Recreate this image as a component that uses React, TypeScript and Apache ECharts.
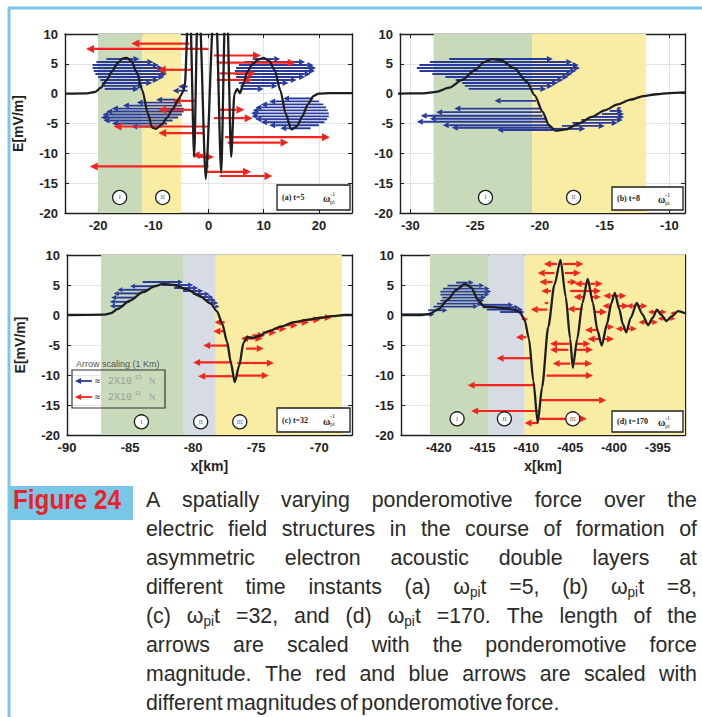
import React, { useEffect, useRef } from 'react';
import * as echarts from 'echarts';

const FONT = '"Liberation Sans", Arial, Helvetica, sans-serif';
const SERIF = '"Liberation Serif", "DejaVu Serif", serif';

// ---------- axes ----------
const Y_TICKS_MIN = -20;
const Y_TICKS_MAX = 10;
const Y_STEP = 5;
const xRangeA = [-26, 26];
const xRangeB = [-30.8, -8.8];
const xRangeC = [-90, -67.4];
const xRangeD = [-424.3, -391.9];
const xTicksA = [-20, -10, 0, 10, 20];
const xTicksB = [-30, -25, -20, -15, -10];
const xTicksC = [-90, -85, -80, -75, -70];
const xTicksD = [-420, -415, -410, -405, -400, -395];

// ---------- shaded regions [x0, x1, kind] kind: 0 green, 1 yellow, 2 grey-blue ----------
const regionsA = [[-20, -12, 0], [-12, -5, 1]];
const regionsB = [[-28.2, -20.6, 0], [-20.6, -11.8, 1]];
const regionsC = [[-87.3, -80.8, 0], [-80.8, -78.2, 2], [-78.2, -68.2, 1]];
const regionsD = [[-421, -414.3, 0], [-414.3, -410.2, 2], [-410.2, -391.9, 1]];

// ---------- electric field curves [x, E] ----------
const curveA = [
  [-26, 0], [-22, 0.05], [-20.5, 0.3], [-19.5, 1], [-18.5, 2.2], [-17.5, 3.7], [-16.5, 5.1], [-15.5, 5.9],
  [-14.8, 6], [-14, 5.5], [-13, 3.6], [-12, 0.6], [-11, -3.3], [-10.2, -5.7], [-9.5, -5.9], [-8.5, -5.2],
  [-7.5, -4], [-6.5, -2.6], [-5.5, -1.1], [-5, -0.3], [-4.6, 0.4], [-4.3, 1.2],
  [-3.7, 13], [-3.3, 13], [-2.6, -10.6], [-2.0, 13], [-1.6, 13], [-0.5, -14.3], [0.9, 13], [1.4, 13],
  [2.3, -13.3], [3.0, 13], [3.4, 13], [4.1, -10.6], [4.7, 0], [5.2, 0.8], [5.7, 0.1], [6.3, 1.6],
  [7, 3.6], [8, 5], [9, 5.7], [10, 6], [11, 5.5], [12, 3.9], [13, 0.6], [14, -3.4], [15, -6],
  [16, -5.5], [17, -3.8], [18, -1.8], [19, -0.4], [20, 0], [22, 0.1], [26, 0.1],
];
const curveB = [
  [-31, 0], [-29, 0.05], [-28, 0.3], [-27, 1], [-26, 2.3], [-25, 4], [-24.3, 5.3], [-23.7, 5.8],
  [-23, 5.6], [-22, 4.3], [-21, 2], [-20.4, -0.3], [-19.8, -3], [-19.3, -5.3], [-18.8, -6.2],
  [-18, -6], [-17, -5], [-16, -3.9], [-15, -2.8], [-14, -1.8], [-13, -1], [-12, -0.4], [-11, -0.1],
  [-10, 0.1], [-8.8, 0.2],
];
const curveC = [
  [-90, 0], [-87, 0.05], [-86.5, 0.3], [-86, 1], [-85, 2.4], [-84, 3.8], [-83, 4.8], [-82.4, 5.2],
  [-81.5, 5], [-80.5, 4.3], [-79.5, 3.2], [-78.6, 1.9], [-78.1, 0.6], [-77.7, -1.4], [-77.3, -4.5],
  [-77, -8], [-76.7, -11.2], [-76.35, -8.5], [-76, -4.6], [-75.7, -3.7], [-75.2, -3.8], [-74.8, -3.5],
  [-74, -2.7], [-73, -1.9], [-72, -1.2], [-71, -0.8], [-70, -0.5], [-69, -0.2], [-68, 0], [-67.4, 0],
];
const curveD = [
  [-424.3, 0], [-422, 0], [-421, 0.2], [-420, 1], [-419, 2.5], [-418, 4.2], [-417, 5.2], [-416.3, 4.6],
  [-415.5, 2.5], [-414.8, 1.4], [-413, 1.2], [-411.5, 0.9], [-410.7, 0.4], [-410.2, -0.8], [-409.7, -4],
  [-409.2, -11], [-408.7, -18], [-408.2, -12], [-407.5, -2], [-406.8, 5], [-406.1, 9.2], [-405.5, 3],
  [-405, -4], [-404.7, -8.8], [-404.2, -4], [-403.6, 2], [-403, 6], [-402.4, 2], [-401.9, -2.5],
  [-401.4, -5.1], [-400.8, -1.5], [-400.3, 2], [-399.9, 3.7], [-399.4, 1], [-399, -1.5], [-398.6, -2.9],
  [-398.1, -0.5], [-397.4, 2], [-396.8, 0.2], [-396.1, -1.7], [-395.6, -0.5], [-395.1, 0.9], [-394.6, 0],
  [-394, -1], [-393.4, -0.2], [-392.7, 0.65], [-391.9, 0.3],
];

// ---------- ponderomotive force arrows [xTail, y, xHead] ----------
const blueA = [
  [-18.5, 5.8, -12.5], [-20.3, 5.3, -10.0], [-21.0, 4.8, -9.0], [-21.0, 4.3, -8.2], [-20.8, 3.8, -7.6],
  [-20.5, 3.3, -7.5], [-20.0, 2.8, -8.0], [-19.6, 2.3, -9.0], [-19.3, 1.8, -10.2], [-19.0, 1.3, -11.8],
  [-18.8, 0.8, -12.6],
  [-6.0, -1.0, -9.5], [-5.2, -1.5, -13.0], [-4.8, -2.0, -15.5], [-4.5, -2.5, -17.5], [-4.5, -3.0, -18.5],
  [-4.8, -3.5, -19.2], [-5.5, -4.0, -19.5], [-6.5, -4.5, -19.0], [-7.5, -5.0, -17.5], [-8.5, -5.5, -14.0],
  [-3.8, 0.5, -6.5], [-3.8, 1.2, -5.5],
  [8.0, 5.8, 13.0], [6.5, 5.3, 17.5], [5.5, 4.8, 19.0], [5.0, 4.3, 19.5], [4.8, 3.8, 19.3],
  [4.8, 3.3, 18.5], [5.0, 2.8, 17.5], [5.2, 2.3, 16.0], [5.5, 1.8, 14.5], [5.8, 1.3, 12.5], [6.0, 0.8, 10.0],
  [19.0, -0.8, 13.5], [20.0, -1.3, 11.0], [20.8, -1.8, 9.5], [21.3, -2.3, 8.5], [21.6, -2.8, 8.0],
  [21.8, -3.3, 7.7], [21.8, -3.8, 7.8], [21.5, -4.3, 8.5], [21.0, -4.8, 9.5], [20.0, -5.3, 11.0],
  [18.5, -5.8, 13.0],
];
const redA = [
  [-3.5, 8.4, -14.0], [0.0, 7.5, -22.2], [-3.0, 4.0, -9.2], [-2.5, -1.2, -6.5], [-2.8, -2.7, -9.1],
  [0.0, -5.5, -17.2], [-1.0, -6.6, -9.1], [0.0, -12.2, -21.5], [-1.0, -10.3, -3.0],
  [1.0, 6.4, 9.5], [1.5, 5.2, 15.8], [2.0, 3.4, 8.6], [1.5, 2.3, 8.0], [2.0, -2.7, 6.5], [1.0, -4.1, 8.0],
  [3.0, -7.3, 22.0], [3.5, -8.2, 14.5], [-0.5, -13.1, 7.7], [2.0, -13.8, 11.6], [-2.0, -10.6, 1.0],
];
const blueB = [
  [-27.0, 5.8, -19.0], [-28.5, 5.3, -17.5], [-29.3, 4.8, -17.0], [-29.5, 4.3, -16.9], [-29.3, 3.8, -17.2],
  [-28.3, 3.3, -17.5], [-27.3, 2.8, -17.8], [-26.5, 2.3, -18.2], [-26.0, 1.8, -18.6], [-25.8, 1.3, -19.0],
  [-25.5, 0.8, -19.5],
  [-20.3, -1.2, -23.5], [-20.0, -2.5, -26.6], [-19.9, -3.1, -28.0], [-19.8, -3.7, -29.2], [-19.6, -4.2, -28.5],
  [-19.4, -4.7, -29.5], [-19.2, -5.3, -27.5], [-19.0, -5.7, -26.8], [-19.0, -6.1, -23.3],
  [-19.0, -5.9, -16.5], [-18.3, -5.4, -15.0], [-17.5, -4.9, -14.0], [-16.8, -4.4, -13.6], [-16.0, -3.9, -13.5],
  [-15.2, -3.4, -13.5], [-14.6, -2.9, -13.6], [-14.0, -2.4, -13.7],
];
const blueC = [
  [-85.5, 1.5, -86.6], [-85.0, 2.2, -86.6], [-84.6, 2.9, -86.5], [-84.1, 3.6, -86.3], [-83.6, 4.2, -86.0],
  [-83.0, 4.8, -85.0],
  [-84.0, 5.5, -80.8], [-82.5, 5.0, -80.0], [-81.5, 4.5, -79.6], [-80.8, 4.0, -79.2], [-80.0, 3.5, -78.7],
  [-79.5, 3.0, -78.4], [-79.0, 2.5, -78.2], [-78.6, 2.0, -78.0], [-78.3, 1.4, -77.9],
];
const redC = [
  [-77.5, -1.2, -78.3], [-77.6, -2.7, -78.4], [-77.3, -5.1, -79.2], [-76.9, -7.9, -80.0], [-76.8, -10.2, -79.6],
  [-76.0, -3.9, -74.5], [-75.8, -5.6, -74.4], [-76.5, -8.0, -73.6], [-76.5, -10.1, -74.0], [-75.3, -3.9, -76.2],
  [-75.3, -3.4, -74.3], [-74.5, -2.9, -73.4], [-73.6, -2.3, -72.6], [-72.7, -1.7, -71.7], [-71.8, -1.2, -70.8],
  [-70.9, -0.8, -69.9], [-70.0, -0.4, -69.0],
];
const blueD = [
  [-424.2, 0.1, -420.5], [-418.0, 5.4, -416.0], [-419.0, 4.9, -414.8], [-419.5, 4.4, -414.2],
  [-419.8, 3.9, -414.0], [-419.8, 3.4, -414.2], [-419.6, 2.9, -414.6], [-419.8, 2.4, -414.8],
  [-420.2, 1.9, -415.0], [-420.6, 1.4, -415.5], [-421.2, 0.8, -419.0],
  [-415.5, 1.7, -411.5], [-415.0, 1.3, -410.8], [-414.5, 0.9, -410.4], [-413.0, 0.5, -410.2],
];
const redD = [
  [-406.5, 8.5, -408.0], [-405.8, 8.5, -403.5], [-406.8, 7.0, -408.7], [-405.6, 7.0, -403.8],
  [-407.0, 5.5, -408.5], [-405.3, 5.5, -404.2], [-407.2, 4.0, -408.3], [-405.0, 4.0, -401.5],
  [-407.5, 2.0, -408.0], [-407.6, 0.9, -409.5], [-409.9, -0.7, -410.6], [-410.0, -3.7, -411.2],
  [-405.2, -5.8, -407.3], [-404.3, -5.8, -402.4], [-405.1, -4.8, -407.3], [-404.3, -4.8, -402.7],
  [-409.4, -7.2, -413.4], [-405.0, -8.1, -407.0], [-404.5, -8.1, -402.5], [-407.7, -10.1, -402.4],
  [-409.0, -11.7, -416.7], [-408.3, -14.2, -400.9], [-408.6, -16.0, -416.3], [-408.5, -17.3, -403.1],
  [-408.7, -18.0, -410.2],
  [-403.3, 5.2, -404.5], [-402.7, 5.2, -401.3], [-403.4, 3.0, -404.6], [-402.5, 3.0, -401.5],
  [-403.6, 1.0, -405.3], [-402.2, 0.5, -400.8],
  [-401.6, -4.0, -403.0], [-401.2, -4.0, -400.0], [-401.8, -2.5, -403.3], [-401.0, -2.0, -400.0],
  [-400.1, 3.2, -401.2], [-399.7, 3.2, -398.6], [-400.3, 1.5, -401.3], [-399.4, 1.5, -398.3],
  [-398.8, -2.3, -399.8], [-398.4, -2.3, -397.4], [-397.6, 1.5, -398.6], [-397.2, 1.5, -396.2],
  [-396.3, -1.2, -397.2], [-395.9, -1.2, -395.0], [-395.3, 0.5, -396.1], [-394.9, 0.5, -394.0],
  [-394.2, -0.6, -395.0], [-393.8, -0.6, -393.0], [-392.9, 0.3, -393.6],
];

// ---------- numbered region markers [x, y, label] ----------
const circA = [[-16.1, -17.4, 'I'], [-8.3, -17.4, 'II']];
const circB = [[-24.2, -17.4, 'I'], [-17.4, -17.4, 'II']];
const circC = [[-84.1, -17.8, 'I'], [-79.4, -17.8, 'II'], [-76.3, -17.8, 'III']];
const circD = [[-417.9, -17.3, 'I'], [-412.5, -17.3, 'II'], [-404.7, -17.3, 'III']];

const panelTags = ['(a) t=5', '(b) t=8', '(c) t=32', '(d) t=170'];
const legendValues = [['2X10', '-13'], ['2X10', '-11']];

const CAPTION = [
  'A spatially varying ponderomotive force over the',
  'electric field structures in the course of formation of',
  'asymmetric electron acoustic double layers at',
  'different time instants (a) ω_{pi}t =5, (b) ω_{pi}t =8,',
  '(c) ω_{pi}t =32, and (d) ω_{pi}t =170. The length of the',
  'arrows are scaled with the ponderomotive force',
  'magnitude. The red and blue arrows are scaled with',
  'different magnitudes of ponderomotive force.',
];

// ---------- styles ----------
const REGION_COLORS = ['#c9dabb', '#f9eca3', '#d6dbe4'];
const BLUE = '#283a9c';
const RED = '#f5231e';
const INK = '#1e1e1e';

const GRIDS = [
  { left: 65, top: 34, width: 287, height: 179 },
  { left: 400, top: 34, width: 285, height: 179 },
  { left: 67, top: 255, width: 285, height: 180 },
  { left: 401, top: 255, width: 284, height: 180 },
];

function arrowSeries(gi: number, data: number[][], color: string, lw: number, head: number, z: number) {
  return {
    type: 'custom', xAxisIndex: gi, yAxisIndex: gi, z, clip: true, silent: true,
    encode: { x: [0, 2], y: 1 },
    data,
    renderItem: (params: any, api: any) => {
      const x0 = api.value(0), y = api.value(1), x1 = api.value(2);
      const p0 = api.coord([x0, y]);
      const p1 = api.coord([x1, y]);
      const dir = p1[0] >= p0[0] ? 1 : -1;
      const len = Math.abs(p1[0] - p0[0]);
      const h = Math.min(head, len * 0.7);
      const bx = p1[0] - dir * h;
      const hw = h * 0.5;
      return {
        type: 'group',
        children: [
          { type: 'line', shape: { x1: p0[0], y1: p0[1], x2: bx, y2: p1[1] }, style: { stroke: color, lineWidth: lw } },
          { type: 'polygon', shape: { points: [[p1[0], p1[1]], [bx, p1[1] - hw], [bx, p1[1] + hw]] }, style: { fill: color } },
        ],
      };
    },
  };
}

function regionSeries(gi: number, data: number[][]) {
  return {
    type: 'custom', xAxisIndex: gi, yAxisIndex: gi, z: 1, clip: true, silent: true,
    encode: { x: [0, 1] },
    data,
    renderItem: (params: any, api: any) => {
      const a = api.coord([api.value(0), Y_TICKS_MAX]);
      const b = api.coord([api.value(1), Y_TICKS_MIN]);
      const kind = data[params.dataIndex][2];
      return { type: 'rect', shape: { x: a[0], y: a[1], width: b[0] - a[0], height: b[1] - a[1] }, style: { fill: REGION_COLORS[kind] } };
    },
  };
}

function curveSeries(gi: number, data: number[][]) {
  return {
    type: 'line', xAxisIndex: gi, yAxisIndex: gi, z: 5, data, showSymbol: false, symbol: 'none',
    smooth: 0.25, smoothMonotone: 'x', clip: true, silent: true,
    lineStyle: { color: INK, width: 2.3 },
  };
}

function circleSeries(gi: number, data: any[]) {
  return {
    type: 'scatter', xAxisIndex: gi, yAxisIndex: gi, z: 6, silent: true, data,
    symbol: 'circle', symbolSize: 14,
    itemStyle: { color: '#ffffff', borderColor: INK, borderWidth: 1.3, opacity: 1 },
    label: { show: true, position: 'inside', formatter: (p: any) => p.value[2], fontFamily: SERIF, fontSize: 6, color: '#555' },
  };
}

function xAxisBottom(gi: number, range: number[], ticks: number[], withName: boolean) {
  return {
    type: 'value', gridIndex: gi, position: 'bottom', min: range[0], max: range[1],
    name: withName ? 'x[km]' : '', nameLocation: 'middle', nameGap: 24,
    nameTextStyle: { fontFamily: FONT, fontSize: 14, fontWeight: 'bold', color: '#222' },
    axisLine: { show: true, onZero: false, lineStyle: { color: INK, width: 1.4 } },
    axisTick: { show: true, inside: true, length: 4, customValues: ticks, lineStyle: { color: INK } },
    axisLabel: { show: true, customValues: ticks, fontFamily: FONT, fontSize: 13, fontWeight: 'bold', color: '#222', margin: 6 },
    splitLine: { show: true, lineStyle: { color: '#dcdcdc', width: 0.8 } },
  };
}
function xAxisTop(gi: number, range: number[], ticks: number[]) {
  return {
    type: 'value', gridIndex: gi, position: 'top', min: range[0], max: range[1],
    axisLine: { show: true, onZero: false, lineStyle: { color: INK, width: 1.4 } },
    axisTick: { show: true, inside: true, length: 4, customValues: ticks, lineStyle: { color: INK } },
    axisLabel: { show: false },
    splitLine: { show: false },
  };
}
function yAxisLeft(gi: number, withName: boolean) {
  return {
    type: 'value', gridIndex: gi, position: 'left', min: Y_TICKS_MIN, max: Y_TICKS_MAX, interval: Y_STEP,
    name: withName ? 'E[mV/m]' : '', nameLocation: 'middle', nameGap: 40,
    nameTextStyle: { fontFamily: FONT, fontSize: 14, fontWeight: 'bold', color: '#222' },
    axisLine: { show: true, onZero: false, lineStyle: { color: INK, width: 1.4 } },
    axisTick: { show: true, inside: true, length: 4, lineStyle: { color: INK } },
    axisLabel: { fontFamily: FONT, fontSize: 13, fontWeight: 'bold', color: '#222', margin: 7 },
    splitLine: { show: true, lineStyle: { color: '#dcdcdc', width: 0.8 } },
  };
}
function yAxisRight(gi: number) {
  return {
    type: 'value', gridIndex: gi, position: 'right', min: Y_TICKS_MIN, max: Y_TICKS_MAX, interval: Y_STEP,
    axisLine: { show: true, onZero: false, lineStyle: { color: INK, width: 1.4 } },
    axisTick: { show: true, inside: true, length: 4, lineStyle: { color: INK } },
    axisLabel: { show: false },
    splitLine: { show: false },
  };
}

function tagBox(x: number, y: number, w: number, h: number, tag: string) {
  const cy = y + h / 2;
  return [
    { type: 'rect', z: 40, shape: { x, y, width: w, height: h }, style: { fill: '#ffffff', stroke: INK, lineWidth: 1.3 } },
    { type: 'text', z: 41, x: x + 5, y: cy, style: { text: tag, font: `bold 8px ${SERIF}`, fill: '#222', textVerticalAlign: 'middle' } },
    { type: 'text', z: 41, x: x + 46, y: cy + 1, style: { text: 'ω', font: `bold 10px ${SERIF}`, fill: '#222', textVerticalAlign: 'middle' } },
    { type: 'text', z: 41, x: x + 53, y: cy - 4, style: { text: '-1', font: `6px ${SERIF}`, fill: '#222', textVerticalAlign: 'middle' } },
    { type: 'text', z: 41, x: x + 53, y: cy + 4, style: { text: 'pi', font: `6px ${SERIF}`, fill: '#222', textVerticalAlign: 'middle' } },
  ];
}

function legendArrow(x0: number, x1: number, y: number, color: string) {
  return [
    { type: 'line', z: 41, shape: { x1: x1, y1: y, x2: x0 + 5, y2: y }, style: { stroke: color, lineWidth: 1.8 } },
    { type: 'polygon', z: 41, shape: { points: [[x0, y], [x0 + 6, y - 3], [x0 + 6, y + 3]] }, style: { fill: color } },
  ];
}

function buildCaption() {
  const els: any[] = [];
  const X0 = 146, X1 = 697, Y0 = 499, DY = 29.0;
  const SIZE = 22, SUB = 14, SX = 0.97;
  const mainF = `${SIZE}px ${FONT}`;
  const subF = `${SUB}px ${FONT}`;
  const ctx = document.createElement('canvas').getContext('2d') as CanvasRenderingContext2D;
  const meas = (t: string, f: string) => { ctx.font = f; return ctx.measureText(t).width * SX; };
  CAPTION.forEach((line, li) => {
    const y = Y0 + li * DY;
    const words = line.split(' ');
    const parsed = words.map((w) => w.split(/_\{([^}]*)\}/).map((p, i) => ({ t: p, sub: i % 2 === 1, w: meas(p, i % 2 === 1 ? subF : mainF) })));
    const widths = parsed.map((ps) => ps.reduce((s, p) => s + p.w, 0));
    const total = widths.reduce((s, v) => s + v, 0);
    const last = li === CAPTION.length - 1;
    const gap = last ? 3.5 : (X1 - X0 - total) / (words.length - 1);
    let x = X0;
    parsed.forEach((ps) => {
      ps.forEach((p) => {
        if (p.t.length) {
          els.push({ type: 'text', x, y: p.sub ? y + 6 : y, scaleX: SX, z: 20, style: { text: p.t, font: p.sub ? subF : mainF, fill: '#2a2a2a', textVerticalAlign: 'middle' } });
        }
        x += p.w;
      });
      x += gap;
    });
  });
  return els;
}

export default function App() {
  const ref = useRef<HTMLDivElement>(null);
  useEffect(() => {
    if (!ref.current) return;
    const chart = echarts.init(ref.current, null, { renderer: 'svg', width: 702, height: 717 });

    const graphic: any[] = [
      // frame
      { type: 'line', z: 30, shape: { x1: 8, y1: 8, x2: 702, y2: 8 }, style: { stroke: '#7cc6e6', lineWidth: 3 } },
      { type: 'line', z: 30, shape: { x1: 9, y1: 8, x2: 9, y2: 717 }, style: { stroke: '#7cc6e6', lineWidth: 3 } },
      // figure label
      { type: 'rect', z: 20, shape: { x: 10, y: 486, width: 123, height: 34 }, style: { fill: '#78c7e6' } },
      { type: 'text', z: 21, x: 13, y: 500, scaleX: 0.9, style: { text: 'Figure 24', font: `bold 27px ${FONT}`, fill: '#ee1f26', textVerticalAlign: 'middle' } },
      // panel tags
      ...tagBox(277, 185, 73, 25, panelTags[0]),
      ...tagBox(612, 187, 71, 23, panelTags[1]),
      ...tagBox(277, 408, 73, 24, panelTags[2]),
      ...tagBox(612, 411, 71, 21, panelTags[3]),
      // arrow scaling legend (panel c)
      { type: 'text', z: 40, x: 76, y: 364, style: { text: 'Arrow scaling (1 Km)', font: `9px ${FONT}`, fill: '#555', textVerticalAlign: 'middle' } },
      { type: 'rect', z: 40, shape: { x: 72, y: 370, width: 93, height: 38 }, style: { fill: 'none', stroke: '#333', lineWidth: 1.2 } },
      ...legendArrow(75, 92, 381, BLUE),
      ...legendArrow(75, 92, 397, RED),
      { type: 'text', z: 41, x: 95, y: 381, style: { text: '≈', font: `bold 9px ${FONT}`, fill: '#444', textVerticalAlign: 'middle' } },
      { type: 'text', z: 41, x: 95, y: 397, style: { text: '≈', font: `bold 9px ${FONT}`, fill: '#444', textVerticalAlign: 'middle' } },
      { type: 'text', z: 41, x: 108, y: 381, style: { text: legendValues[0][0], font: `10px "Liberation Mono", monospace`, fill: '#9a9a9a', textVerticalAlign: 'middle' } },
      { type: 'text', z: 41, x: 133, y: 377, style: { text: legendValues[0][1], font: `6px ${FONT}`, fill: '#9a9a9a', textVerticalAlign: 'middle' } },
      { type: 'text', z: 41, x: 149, y: 381, style: { text: 'N', font: `9px ${SERIF}`, fill: '#9a9a9a', textVerticalAlign: 'middle' } },
      { type: 'text', z: 41, x: 108, y: 397, style: { text: legendValues[1][0], font: `10px "Liberation Mono", monospace`, fill: '#9a9a9a', textVerticalAlign: 'middle' } },
      { type: 'text', z: 41, x: 133, y: 393, style: { text: legendValues[1][1], font: `6px ${FONT}`, fill: '#9a9a9a', textVerticalAlign: 'middle' } },
      { type: 'text', z: 41, x: 149, y: 397, style: { text: 'N', font: `9px ${SERIF}`, fill: '#9a9a9a', textVerticalAlign: 'middle' } },
      ...buildCaption(),
    ];

    const option: any = {
      animation: false,
      backgroundColor: '#ffffff',
      grid: GRIDS.map((g) => ({ ...g, containLabel: false })),
      xAxis: [
        xAxisBottom(0, xRangeA, xTicksA, false),
        xAxisBottom(1, xRangeB, xTicksB, false),
        xAxisBottom(2, xRangeC, xTicksC, true),
        xAxisBottom(3, xRangeD, xTicksD, true),
        xAxisTop(0, xRangeA, xTicksA),
        xAxisTop(1, xRangeB, xTicksB),
        xAxisTop(2, xRangeC, xTicksC),
        xAxisTop(3, xRangeD, xTicksD),
      ],
      yAxis: [
        yAxisLeft(0, true), yAxisLeft(1, false), yAxisLeft(2, true), yAxisLeft(3, false),
        yAxisRight(0), yAxisRight(1), yAxisRight(2), yAxisRight(3),
      ],
      series: [
        regionSeries(0, regionsA), regionSeries(1, regionsB), regionSeries(2, regionsC), regionSeries(3, regionsD),
        arrowSeries(0, blueA, BLUE, 1.9, 6, 3),
        arrowSeries(1, blueB, BLUE, 1.9, 6, 3),
        arrowSeries(2, blueC, BLUE, 1.9, 5, 3),
        arrowSeries(3, blueD, BLUE, 1.9, 5, 3),
        arrowSeries(0, redA, RED, 2.2, 8, 4),
        arrowSeries(2, redC, RED, 2.2, 7, 4),
        arrowSeries(3, redD, RED, 2.2, 7, 4),
        curveSeries(0, curveA), curveSeries(1, curveB), curveSeries(2, curveC), curveSeries(3, curveD),
        circleSeries(0, circA), circleSeries(1, circB), circleSeries(2, circC), circleSeries(3, circD),
      ],
      graphic: { elements: graphic },
    };
    chart.setOption(option);
    return () => chart.dispose();
  }, []);
  return <div ref={ref} style={{ position: 'fixed', left: 0, top: 0, width: 702, height: 717 }} />;
}
